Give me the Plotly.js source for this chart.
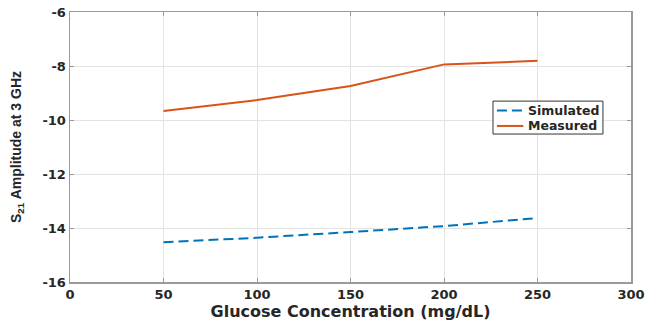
<!DOCTYPE html>
<html><head><meta charset="utf-8">
<script src="https://cdn.plot.ly/plotly-3.0.1.min.js"></script>
<style>html,body{margin:0;padding:0;background:#fff;}#chart{width:647px;height:326px;}</style>
</head><body><div id="chart"></div>
<script>
const concentration = [50, 100, 150, 200, 250];
const simulated = [-14.53, -14.36, -14.15, -13.93, -13.63];
const measured = [-9.67, -9.26, -8.74, -7.94, -7.81];
const seriesNames = ['Simulated', 'Measured'];
const seriesColors = ['#0072BD', '#D95319'];
const seriesDashes = ['10px,5px', 'solid'];
const xTicks = [0, 50, 100, 150, 200, 250, 300];
const yTicks = [-16, -14, -12, -10, -8, -6];

const wide = 'DejaVu Sans, Verdana, sans-serif';
const narrow = 'Liberation Sans, Arial, sans-serif';
const ink = '#262626';

const traces = [
  {x: concentration, y: simulated, name: seriesNames[0], mode: 'lines',
   line: {color: seriesColors[0], width: 2, dash: seriesDashes[0]}},
  {x: concentration, y: measured, name: seriesNames[1], mode: 'lines',
   line: {color: seriesColors[1], width: 2, dash: seriesDashes[1]}}
];

// Custom compact legend (paper coordinates, MATLAB-style)
const legBox = {x0: 0.754, x1: 0.950, y0: 0.548, y1: 0.670};
const rowY = [0.635, 0.578];
const shapes = [{type: 'rect', xref: 'paper', yref: 'paper',
  x0: legBox.x0, x1: legBox.x1, y0: legBox.y0, y1: legBox.y1,
  line: {color: '#333', width: 1}, fillcolor: '#fff', layer: 'above'}];
const annotations = [];
seriesNames.forEach((n, i) => {
  shapes.push({type: 'line', xref: 'paper', yref: 'paper',
    x0: 0.761, x1: 0.808, y0: rowY[i], y1: rowY[i], layer: 'above',
    line: {color: seriesColors[i], width: 2, dash: seriesDashes[i]}});
  annotations.push({xref: 'paper', yref: 'paper', x: 0.813, y: rowY[i],
    xanchor: 'left', yanchor: 'middle', showarrow: false, text: n,
    font: {family: wide, size: 12.5, color: ink, weight: 'bold'}});
});

const axisCommon = {
  showline: true, mirror: 'ticks', linecolor: '#9a9a9a', linewidth: 1.5,
  showgrid: true, gridcolor: '#e3e3e3', gridwidth: 1,
  ticks: 'inside', ticklen: 4, tickcolor: '#9a9a9a',
  zeroline: false, automargin: false,
  tickfont: {family: wide, size: 13, color: ink, weight: 'bold'}
};
const layout = {
  width: 647, height: 326,
  margin: {l: 70, r: 16, t: 12, b: 44},
  paper_bgcolor: '#fff', plot_bgcolor: '#fff',
  showlegend: false,
  shapes: shapes, annotations: annotations,
  xaxis: Object.assign({}, axisCommon, {
    range: [0, 300], tickvals: xTicks, ticktext: xTicks.map(String),
    title: {text: 'Glucose Concentration (mg/dL)', standoff: 2,
      font: {family: wide, size: 16, color: ink, weight: 'bold'}}
  }),
  yaxis: Object.assign({}, axisCommon, {
    range: [-16, -6], tickvals: yTicks, ticktext: yTicks.map(v => String(v).replace('\u2212', '-')),
    title: {text: 'S<sub>21</sub> Amplitude at 3 GHz', standoff: 17,
      font: {family: narrow, size: 14, color: ink, weight: 'bold'}}
  })
};
Plotly.newPlot('chart', traces, layout, {displayModeBar: false, staticPlot: true});
</script></body></html>
